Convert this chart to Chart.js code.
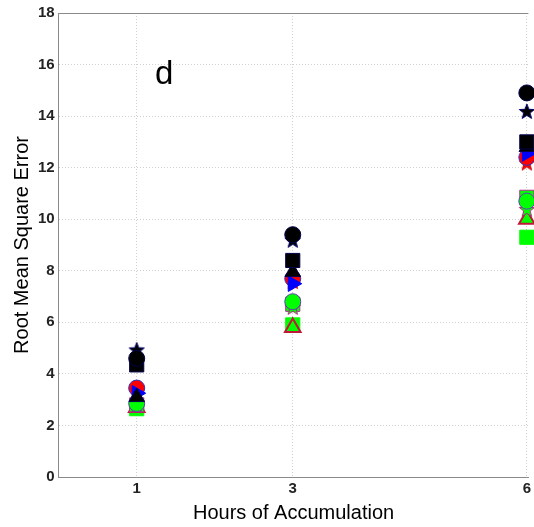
<!DOCTYPE html>
<html>
<head>
<meta charset="utf-8">
<script src="https://cdn.jsdelivr.net/npm/chart.js@4"></script>
<style>
  html, body { margin: 0; padding: 0; background: #fff; overflow: hidden; }
  #wrap { width: 534px; height: 527px; }
</style>
</head>
<body>
<div id="wrap"><canvas id="chart" width="534" height="527"></canvas></div>
<script>
// hours on the x axis
const hours = [1, 3, 6];
const hourTicks = [1, 3, 6];

// RMSE for each marker series
const blackCircle = [4.6, 9.4, 14.9];
const blackSquare = [4.35, 8.4, 13.0];
const blackStar = [4.95, 9.2, 14.2];
const blackTriangle = [3.1, 7.95, 12.8];
const blueTriangle = [3.25, 7.5, 12.55];
const redCircle = [3.45, 7.7, 12.4];
const redStar = [3.35, 7.6, 12.2];
const greenCircle = [2.85, 6.8, 10.7];
const greenStar = [2.8, 6.6, 10.4];
const magentaSquare = [2.8, 6.7, 10.85];
const greenTriangle = [2.7, 5.8, 10.0];
const greenSquare = [2.65, 5.9, 9.3];

function pentagram(fill, stroke, size) {
  const c = document.createElement('canvas');
  c.width = size;
  c.height = size;
  const g = c.getContext('2d');
  const cx = size / 2;
  const cy = size / 2 + 1;
  const ro = size / 2 - 1;
  const ri = ro * 0.42;
  g.beginPath();
  for (let i = 0; i < 10; i += 1) {
    const r = i % 2 === 0 ? ro : ri;
    const a = -Math.PI / 2 + (i * Math.PI) / 5;
    const px = cx + r * Math.cos(a);
    const py = cy + r * Math.sin(a);
    if (i === 0) g.moveTo(px, py); else g.lineTo(px, py);
  }
  g.closePath();
  g.fillStyle = fill;
  g.fill();
  g.lineWidth = 1;
  g.strokeStyle = stroke;
  g.stroke();
  return c;
}

const lime = '#00ff00';

function series(values, style, fill, stroke, radius, extra) {
  return Object.assign({
    data: values.map((v, i) => ({ x: hours[i], y: v })),
    pointStyle: style,
    backgroundColor: fill,
    borderColor: stroke,
    pointBorderWidth: 1,
    pointRadius: radius,
    clip: false,
  }, extra || {});
}

// first dataset is painted on top
const datasets = [
  series(blackCircle, 'circle', '#000', '#00004d', 8),
  series(blackSquare, 'rect', '#000', '#00004d', 10),
  series(blackStar, pentagram('#000', '#000066', 18), '#000', '#000', 9),
  series(blackTriangle, 'triangle', '#000', '#00004d', 9),
  series(blueTriangle, 'triangle', '#0000ff', '#0000ff', 9, { pointRotation: 90 }),
  series(redCircle, 'circle', '#ff0000', '#3030c0', 8),
  series(redStar, pentagram('#ff0000', '#cc0000', 18), '#f00', '#f00', 9),
  series(greenCircle, 'circle', lime, '#6040b0', 8),
  series(greenStar, pentagram(lime, '#b02080', 18), lime, lime, 9),
  series(magentaSquare, 'rect', lime, '#b03090', 10),
  series(greenTriangle, 'triangle', lime, '#c01838', 9, { pointBorderWidth: 2 }),
  series(greenSquare, 'rect', lime, lime, 10),
];

const extras = {
  id: 'extras',
  afterDraw(chart) {
    const { ctx, chartArea } = chart;
    ctx.save();
    ctx.strokeStyle = '#8a8a8a';
    ctx.lineWidth = 1;
    ctx.beginPath();
    ctx.moveTo(chartArea.left, chartArea.top + 0.5);
    ctx.lineTo(chartArea.right, chartArea.top + 0.5);
    ctx.stroke();
    ctx.fillStyle = '#000';
    ctx.font = '33px "Liberation Sans", Arial, sans-serif';
    ctx.textAlign = 'left';
    ctx.textBaseline = 'alphabetic';
    ctx.fillText('d', 155, 84);
    ctx.restore();
  },
};

new Chart(document.getElementById('chart'), {
  type: 'scatter',
  data: { datasets },
  options: {
    responsive: false,
    animation: false,
    layout: { autoPadding: false, padding: { left: 10, right: 0, top: 10, bottom: 2 } },
    plugins: { legend: { display: false }, tooltip: { enabled: false } },
    scales: {
      x: {
        type: 'linear',
        min: 0,
        max: 6.02,
        afterBuildTicks: (scale) => {
          scale.ticks = hourTicks.map((v) => ({ value: v }));
        },
        grid: { color: '#d0d0d0', drawTicks: false },
        border: { color: '#8a8a8a', dash: [1, 2] },
        ticks: {
          padding: 3,
          color: '#222',
          font: { family: 'Liberation Sans', size: 15, weight: 'bold' },
          maxRotation: 0,
        },
        title: {
          display: true,
          text: 'Hours of Accumulation',
          color: '#000',
          font: { family: 'Liberation Sans', size: 20 },
          padding: { top: 0, bottom: 0 },
        },
      },
      y: {
        min: 0,
        max: 18,
        ticks: {
          stepSize: 2,
          padding: 4,
          color: '#222',
          font: { family: 'Liberation Sans', size: 15, weight: 'bold' },
        },
        grid: { color: '#d0d0d0', drawTicks: false },
        border: { color: '#8a8a8a', dash: [1, 2] },
        title: {
          display: true,
          text: 'Root Mean Square Error',
          color: '#000',
          font: { family: 'Liberation Sans', size: 20 },
          padding: { top: 0, bottom: 0 },
        },
      },
    },
  },
  plugins: [extras],
});
</script>
</body>
</html>
